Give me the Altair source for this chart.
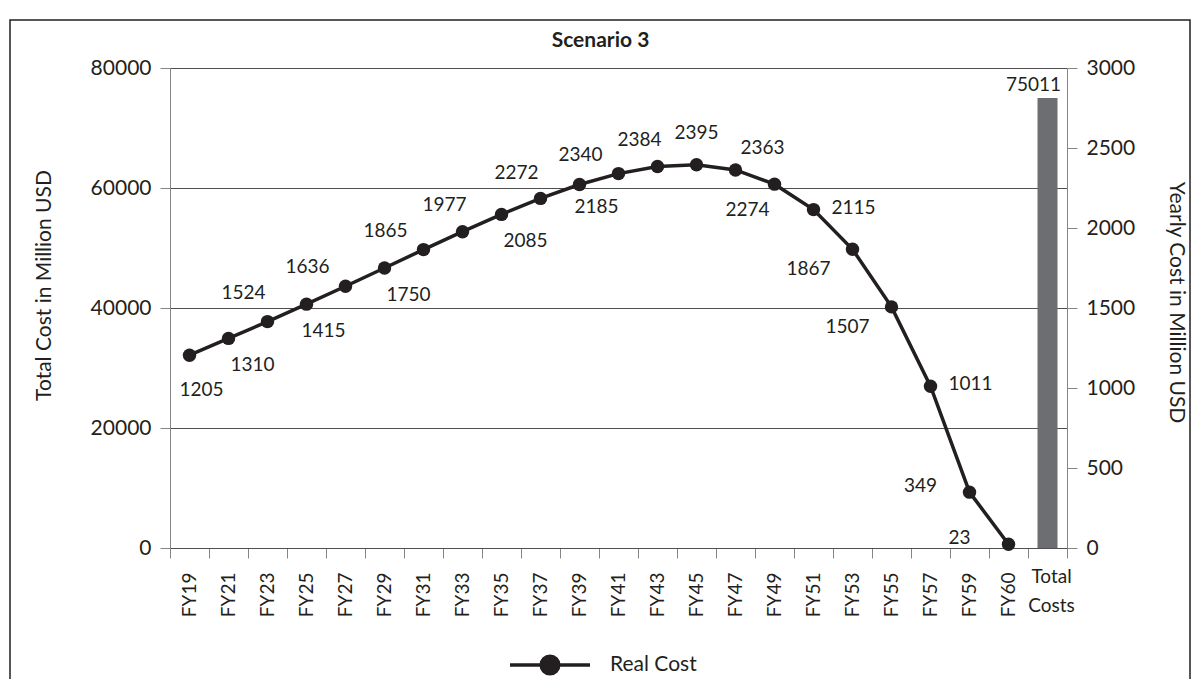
import altair as alt
import pandas as pd

# ---------------- data ----------------
years = ["FY19", "FY21", "FY23", "FY25", "FY27", "FY29", "FY31", "FY33", "FY35", "FY37",
         "FY39", "FY41", "FY43", "FY45", "FY47", "FY49", "FY51", "FY53", "FY55", "FY57",
         "FY59", "FY60"]
yearly_cost = [1205, 1310, 1415, 1524, 1636, 1750, 1865, 1977, 2085, 2185,
               2272, 2340, 2384, 2395, 2363, 2274, 2115, 1867, 1507, 1011,
               349, 23]
total_category = "Total Costs"
total_cost = 75011
series_name = "Real Cost"
label_place = ["below", "below_right", "far_right", "far_left", "above_left", "below_right",
               "above_left", "up_left", "below_right", "far_right", "far_left", "above_left",
               "up_left", "above", "above_right", "below_left", "right", "left_low",
               "left_low", "right", "left", "left"]
left_ticks = [0, 20000, 40000, 60000, 80000]
right_ticks = [0, 500, 1000, 1500, 2000, 2500, 3000]
chart_title = "Scenario 3"
left_title = "Total Cost in Million USD"
right_title = "Yearly Cost in Million USD"

# ---------------- style ----------------
W, H = 897, 480
FONT = "Lato"
INK = "#231f20"
GRID = "#4f4f4f"
AXIS = "#858585"
BAR = "#6d6e71"
PLACE_OFFSETS = {
    "below": (12, 35), "below_right": (24, 27), "far_right": (56, 9),
    "far_left": (-63, -11), "above_left": (-38, -19), "up_left": (-18, -27),
    "above": (0, -32), "above_right": (27, -22), "below_left": (-27, 26),
    "left_low": (-44, 20), "right": (40, -2), "left": (-49, -6),
}
LEGEND_PATH = ("M-1,0L1,0M-0.22,0A0.22,0.22,0,1,1,0.22,0"
               "A0.22,0.22,0,1,1,-0.22,0Z")

categories = years + [total_category]

line_df = pd.DataFrame({"cat": years, "cost": yearly_cost,
                        "place": label_place, "series": series_name})
bar_df = pd.DataFrame({"cat": [total_category], "total": [total_cost]})

x_axis = alt.Axis(title=None, tickBand="extent", labelAngle=270, labelAlign="right",
                  labelBaseline="middle",
                  labelExpr="datum.value == 'Total Costs' ? '' : datum.value",
                  labelFont=FONT, labelFontSize=19, labelColor=INK, labelPadding=14,
                  tickSize=10, tickColor=AXIS, domainColor=GRID, labelOverlap=False,
                  grid=False)
X = alt.X("cat:N", scale=alt.Scale(domain=categories, paddingInner=0, paddingOuter=0),
          sort=categories, axis=x_axis)

y_left = alt.Y("total:Q", scale=alt.Scale(domain=[0, 80000], nice=False),
               axis=alt.Axis(orient="left", title=left_title, values=left_ticks, format="d",
                             grid=True, gridColor=GRID, gridWidth=1, domainColor=AXIS,
                             tickColor=AXIS, tickSize=10, labelPadding=9,
                             labelFont=FONT, labelFontSize=21, labelColor=INK,
                             titleFont=FONT, titleFontSize=21, titleFontWeight="normal",
                             titleColor=INK, titleX=-126, titleY=217,
                             titleBaseline="middle"))
y_right = alt.Y("cost:Q", scale=alt.Scale(domain=[0, 3000], nice=False),
                axis=alt.Axis(orient="right", title=right_title, values=right_ticks,
                              format="d", grid=False, domainColor=AXIS, tickColor=AXIS,
                              tickSize=10, labelPadding=9, labelFont=FONT,
                              labelFontSize=21, labelColor=INK, titleFont=FONT,
                              titleFontSize=21, titleFontWeight="normal",
                              titleColor=INK, titleX=108, titleY=234,
                              titleBaseline="middle"))

# left-scale group: total bar
bar = alt.Chart(bar_df).mark_bar(size=20, color=BAR).encode(x=X, y=y_left)
bar_text = alt.Chart(bar_df).mark_text(
    dx=-14, dy=-3, baseline="bottom", font=FONT, fontSize=19, color=INK
).encode(x=X, y=y_left, text=alt.Text("total:Q", format="d"))
total_lbl = alt.Chart(bar_df).mark_text(
    lineBreak=" ", baseline="top", align="center", dx=4, lineHeight=29,
    font=FONT, fontSize=19, color=INK
).encode(x=X, y=alt.value(H + 20), text="cat:N")
left_group = alt.layer(bar, bar_text, total_lbl)

# right-scale group: yearly line
base = alt.Chart(line_df)
line = base.mark_line(strokeWidth=3.5).encode(
    x=X, y=y_right,
    color=alt.Color("series:N", scale=alt.Scale(range=[INK]),
                    legend=alt.Legend(title=None, orient="none", legendX=338, legendY=555,
                                      symbolType=LEGEND_PATH, symbolSize=6400,
                                      symbolStrokeWidth=3.5, symbolFillColor=INK,
                                      symbolStrokeColor=INK, labelFont=FONT,
                                      labelFontSize=21, labelColor=INK, labelOffset=18,
                                      padding=0)))
points = base.mark_point(filled=True, size=180, color=INK, opacity=1).encode(x=X, y=y_right)
label_layers = []
for place, (dx, dy) in PLACE_OFFSETS.items():
    label_layers.append(
        base.transform_filter(alt.datum.place == place).mark_text(
            dx=dx, dy=dy, font=FONT, fontSize=19, color=INK, baseline="middle",
            align="center"
        ).encode(x=X, y=y_right, text=alt.Text("cost:Q", format="d"))
    )
right_group = alt.layer(line, points, *label_layers)

border = alt.Chart(pd.DataFrame({"a": [0]})).mark_rect(
    fillOpacity=0, stroke=INK, strokeWidth=1.5
).encode(x=alt.value(-160), x2=alt.value(1020), y=alt.value(-48), y2=alt.value(660))

chart = alt.layer(border, left_group, right_group).resolve_scale(
    y="independent"
).properties(
    width=W, height=H,
    title=alt.TitleParams(chart_title, font=FONT, fontSize=21, fontWeight="bold",
                          color=INK, anchor="middle", dx=-18, dy=38, offset=6),
    autosize=alt.AutoSizeParams(type="none"),
    padding={"left": 162, "top": 60, "right": 125, "bottom": 131},
).configure_view(stroke=None)

chart.save("out.html", embed_options={"renderer": "svg", "actions": False})
